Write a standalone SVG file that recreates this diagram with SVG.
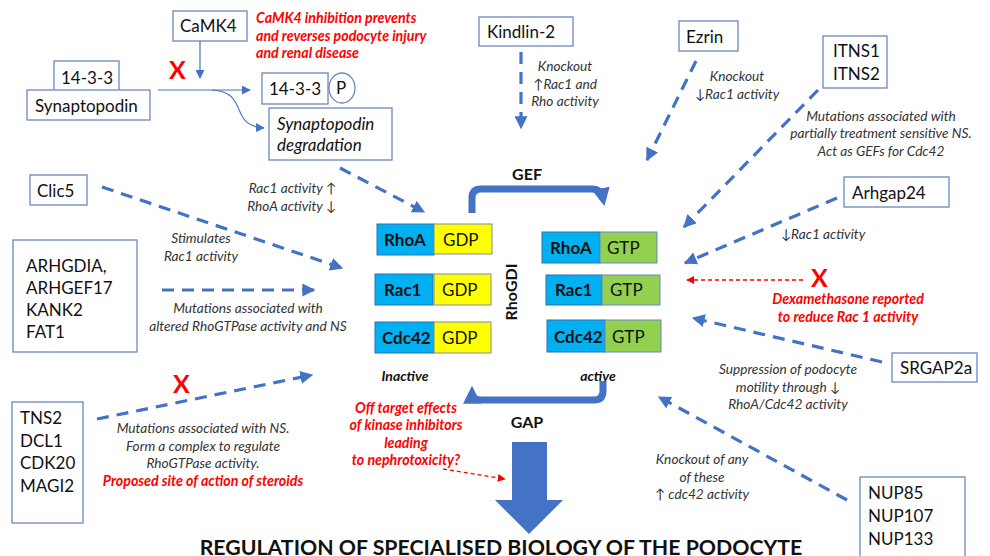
<svg xmlns="http://www.w3.org/2000/svg" width="990" height="556" viewBox="0 0 990 556">
<style>
text{font-family:Lato,"Liberation Sans",sans-serif;}
.box{fill:#fff;stroke:#6b88bf;stroke-width:1.3;}
.bt{font-size:17px;fill:#111;}
.lab{font-size:13.7px;font-style:italic;fill:#333;}
.red{font-size:14.2px;font-style:italic;font-weight:bold;fill:#ff0000;}
.dash{fill:none;stroke:#4472c4;stroke-width:3.2;stroke-dasharray:12 8;marker-end:url(#ah);}
.rdash{fill:none;stroke:#ff0000;stroke-width:1.3;stroke-dasharray:4 3;marker-end:url(#rah);}
.thin{fill:none;stroke:#4472c4;stroke-width:1.2;marker-end:url(#tah);}
.x{font-size:25px;font-weight:bold;fill:#ff0000;}
.gb{fill:#00b0f0;stroke:#2f6fb5;stroke-width:1;}
.gy{fill:#ffff00;stroke:#7f8f9f;stroke-width:1;}
.gg{fill:#92d050;stroke:#6b88bf;stroke-width:1;}
.gt{font-size:17px;font-weight:bold;fill:#111;}
.nt{font-size:17px;fill:#111;}
.cyc{fill:none;stroke:#4472c4;stroke-width:7;}
.st{font-size:14px;font-weight:bold;font-style:italic;fill:#111;}
</style>
<defs>
<marker id="ah" viewBox="0 0 10 10" refX="9" refY="5" markerWidth="13" markerHeight="13" markerUnits="userSpaceOnUse" orient="auto"><path d="M0,0 L10,5 L0,10 z" fill="#4472c4"/></marker>
<marker id="rah" viewBox="0 0 10 10" refX="9" refY="5" markerWidth="8" markerHeight="8" markerUnits="userSpaceOnUse" orient="auto"><path d="M0,0 L10,5 L0,10 z" fill="#ff0000"/></marker>
<marker id="tah" viewBox="0 0 10 10" refX="9" refY="5" markerWidth="9" markerHeight="9" markerUnits="userSpaceOnUse" orient="auto"><path d="M0,0 L10,5 L0,10 z" fill="#4472c4"/></marker>
<marker id="bah" viewBox="0 0 10 10" refX="6" refY="5" markerWidth="18" markerHeight="18" markerUnits="userSpaceOnUse" orient="auto"><path d="M0,0 L10,5 L0,10 z" fill="#4472c4"/></marker>
</defs>

<g id="connectors">
<line class="thin" x1="200" y1="41" x2="200" y2="78"/>
<line class="thin" x1="158" y1="90" x2="250" y2="90"/>
<path class="thin" d="M212,90 C250,92 228,126 264,128"/>
<line class="dash" x1="340" y1="168" x2="424" y2="212"/>
<line class="dash" x1="102" y1="187" x2="342" y2="268"/>
<line class="dash" x1="162" y1="290" x2="314" y2="290"/>
<line class="dash" x1="97" y1="419" x2="312" y2="375"/>
<line class="dash" x1="521" y1="52" x2="521" y2="128"/>
<line class="dash" x1="696" y1="61" x2="647" y2="160"/>
<line class="dash" x1="818" y1="90" x2="684" y2="227"/>
<line class="dash" x1="837" y1="198" x2="685" y2="263"/>
<line class="rdash" x1="803" y1="280" x2="687" y2="280"/>
<line class="dash" x1="882" y1="362" x2="693" y2="318"/>
<line class="dash" x1="847" y1="500" x2="659" y2="397"/>
<line class="rdash" x1="443" y1="469" x2="505" y2="479"/>
<path class="cyc" d="M472,213 V198 Q472,189 481,189 H592 Q601,189 603,199" marker-end="url(#bah)"/>
<path class="cyc" d="M603,381 V391 Q603,400 594,400 H481 Q472,400 472,393" marker-end="url(#bah)"/>
</g>

<g id="camk4"><rect class="box" x="173" y="11" width="74" height="30"/><text class="bt" x="180" y="32">CaMK4</text></g>
<g id="camk4-note"><text class="red" x="256" y="23">CaMK4 inhibition prevents</text><text class="red" x="256" y="41">and reverses podocyte injury</text><text class="red" x="256" y="58">and renal disease</text></g>
<g id="x1"><text class="x" x="169" y="79">X</text></g>
<g id="p1433"><rect class="box" x="54" y="61" width="65" height="30"/><text class="bt" x="61" y="84">14-3-3</text></g>
<g id="synaptopodin"><rect class="box" x="27" y="90" width="123" height="30"/><text class="bt" x="35" y="112">Synaptopodin</text></g>
<g id="p1433p"><rect class="box" x="262" y="73" width="66" height="31"/><text class="bt" x="269" y="95">14-3-3</text><ellipse class="box" cx="342" cy="88" rx="13" ry="15"/><text class="bt" x="336" y="94">P</text></g>
<g id="syndeg"><rect class="box" x="269" y="108" width="123" height="52"/><text class="bt" x="277" y="130" font-style="italic">Synaptopodin</text><text class="bt" x="277" y="151" font-style="italic">degradation</text></g>
<g id="syndeg-note"><text class="lab" x="336" y="193" text-anchor="end">Rac1 activity ↑</text><text class="lab" x="336" y="211" text-anchor="end">RhoA activity ↓</text></g>

<g id="kindlin"><rect class="box" x="479" y="17" width="94" height="29"/><text class="bt" x="487" y="38">Kindlin-2</text></g>
<g id="kindlin-note"><text class="lab" x="565" y="71" text-anchor="middle">Knockout</text><text class="lab" x="565" y="89" text-anchor="middle">↑Rac1 and</text><text class="lab" x="565" y="106" text-anchor="middle">Rho activity</text></g>
<g id="ezrin"><rect class="box" x="679" y="21" width="59" height="30"/><text class="bt" x="686" y="43">Ezrin</text></g>
<g id="ezrin-note"><text class="lab" x="737" y="81" text-anchor="middle">Knockout</text><text class="lab" x="737" y="99" text-anchor="middle">↓Rac1 activity</text></g>
<g id="itns"><rect class="box" x="823" y="36" width="64" height="52"/><text class="bt" x="833" y="57">ITNS1</text><text class="bt" x="833" y="80">ITNS2</text></g>
<g id="itns-note"><text class="lab" x="881" y="121" text-anchor="middle">Mutations associated with</text><text class="lab" x="881" y="138" text-anchor="middle">partially treatment sensitive  NS.</text><text class="lab" x="881" y="156" text-anchor="middle">Act as GEFs for Cdc42</text></g>

<g id="clic5"><rect class="box" x="30" y="175" width="57" height="30"/><text class="bt" x="37" y="197">Clic5</text></g>
<g id="clic5-note"><text class="lab" x="201" y="243" text-anchor="middle">Stimulates</text><text class="lab" x="201" y="261" text-anchor="middle">Rac1 activity</text></g>
<g id="arhgdia"><rect class="box" x="13" y="240" width="124" height="112"/><text class="bt" x="26" y="272">ARHGDIA,</text><text class="bt" x="26" y="294">ARHGEF17</text><text class="bt" x="26" y="316">KANK2</text><text class="bt" x="26" y="338">FAT1</text></g>
<g id="arhgdia-note"><text class="lab" x="248" y="313" text-anchor="middle">Mutations associated with</text><text class="lab" x="248" y="331" text-anchor="middle">altered RhoGTPase activity and NS</text></g>

<g id="inactive">
<rect class="gb" x="377" y="224" width="57" height="31"/><rect class="gy" x="434" y="224" width="58" height="30"/>
<text class="gt" x="384" y="246">RhoA</text><text class="nt" x="443" y="246">GDP</text>
<rect class="gb" x="375" y="274" width="58" height="31"/><rect class="gy" x="434" y="274" width="57" height="31"/>
<text class="gt" x="384" y="296">Rac1</text><text class="nt" x="442" y="296">GDP</text>
<rect class="gb" x="375" y="322" width="59" height="31"/><rect class="gy" x="434" y="322" width="57" height="31"/>
<text class="gt" x="382" y="344">Cdc42</text><text class="nt" x="442" y="344">GDP</text>
<text class="st" x="405" y="381" text-anchor="middle">Inactive</text>
</g>
<g id="active">
<rect class="gb" x="542" y="232" width="58" height="31"/><rect class="gg" x="600" y="232" width="57" height="31"/>
<text class="gt" x="550" y="254">RhoA</text><text class="nt" x="607" y="254">GTP</text>
<rect class="gb" x="546" y="275" width="56" height="30"/><rect class="gg" x="602" y="275" width="58" height="30"/>
<text class="gt" x="555" y="296">Rac1</text><text class="nt" x="610" y="296">GTP</text>
<rect class="gb" x="547" y="320" width="58" height="32"/><rect class="gg" x="605" y="320" width="56" height="32"/>
<text class="gt" x="554" y="343">Cdc42</text><text class="nt" x="612" y="343">GTP</text>
<text class="st" x="598" y="381" text-anchor="middle">active</text>
</g>
<g id="rhogdi"><text x="0" y="0" transform="translate(517,292) rotate(-90)" text-anchor="middle" font-size="16" font-weight="bold" fill="#111">RhoGDI</text></g>
<g id="gef"><text x="527" y="180" text-anchor="middle" font-size="16" font-weight="bold" fill="#111">GEF</text></g>
<g id="gap"><text x="527" y="428" text-anchor="middle" font-size="16" font-weight="bold" fill="#111">GAP</text></g>
<g id="bigarrow"><path d="M512,442 H547 V500 H563 L529,534 L495,500 H512 Z" fill="#4472c4"/></g>
<g id="title"><text x="501" y="555" text-anchor="middle" font-size="21.3" font-weight="bold" fill="#111">REGULATION OF SPECIALISED BIOLOGY OF THE PODOCYTE</text></g>

<g id="arhgap24"><rect class="box" x="844" y="177" width="105" height="30"/><text class="bt" x="852" y="199">Arhgap24</text></g>
<g id="arhgap24-note"><text class="lab" x="823" y="239" text-anchor="middle">↓Rac1 activity</text></g>
<g id="x2"><text class="x" x="811" y="287">X</text></g>
<g id="dexa-note"><text class="red" x="848" y="304" text-anchor="middle">Dexamethasone reported</text><text class="red" x="848" y="322" text-anchor="middle">to reduce Rac 1 activity</text></g>
<g id="srgap2a"><rect class="box" x="892" y="353" width="85" height="29"/><text class="bt" x="900" y="374">SRGAP2a</text></g>
<g id="srgap2a-note"><text class="lab" x="788" y="374" text-anchor="middle">Suppression of podocyte</text><text class="lab" x="788" y="392" text-anchor="middle">motility through ↓</text><text class="lab" x="788" y="409" text-anchor="middle">RhoA/Cdc42 activity</text></g>
<g id="nup"><rect class="box" x="860" y="477" width="105" height="80"/><text class="bt" x="868" y="499">NUP85</text><text class="bt" x="868" y="522">NUP107</text><text class="bt" x="868" y="545">NUP133</text></g>
<g id="nup-note"><text class="lab" x="702" y="464" text-anchor="middle">Knockout of any</text><text class="lab" x="702" y="482" text-anchor="middle">of these</text><text class="lab" x="702" y="499" text-anchor="middle">↑ cdc42 activity</text></g>

<g id="tns2"><rect class="box" x="12" y="402" width="71" height="121"/><text class="bt" x="20" y="424">TNS2</text><text class="bt" x="20" y="447">DCL1</text><text class="bt" x="20" y="469">CDK20</text><text class="bt" x="20" y="492">MAGI2</text></g>
<g id="x3"><text class="x" x="173" y="393">X</text></g>
<g id="tns2-note"><text class="lab" x="203" y="433" text-anchor="middle">Mutations associated with NS.</text><text class="lab" x="203" y="451" text-anchor="middle">Form a complex to regulate</text><text class="lab" x="203" y="468" text-anchor="middle">RhoGTPase activity.</text><text class="red" x="203" y="486" text-anchor="middle">Proposed site of action of steroids</text></g>
<g id="kinase-note"><text class="red" x="406" y="413" text-anchor="middle">Off target effects</text><text class="red" x="406" y="430" text-anchor="middle">of kinase inhibitors</text><text class="red" x="406" y="448" text-anchor="middle">leading</text><text class="red" x="406" y="465" text-anchor="middle">to nephrotoxicity?</text></g>
</svg>
